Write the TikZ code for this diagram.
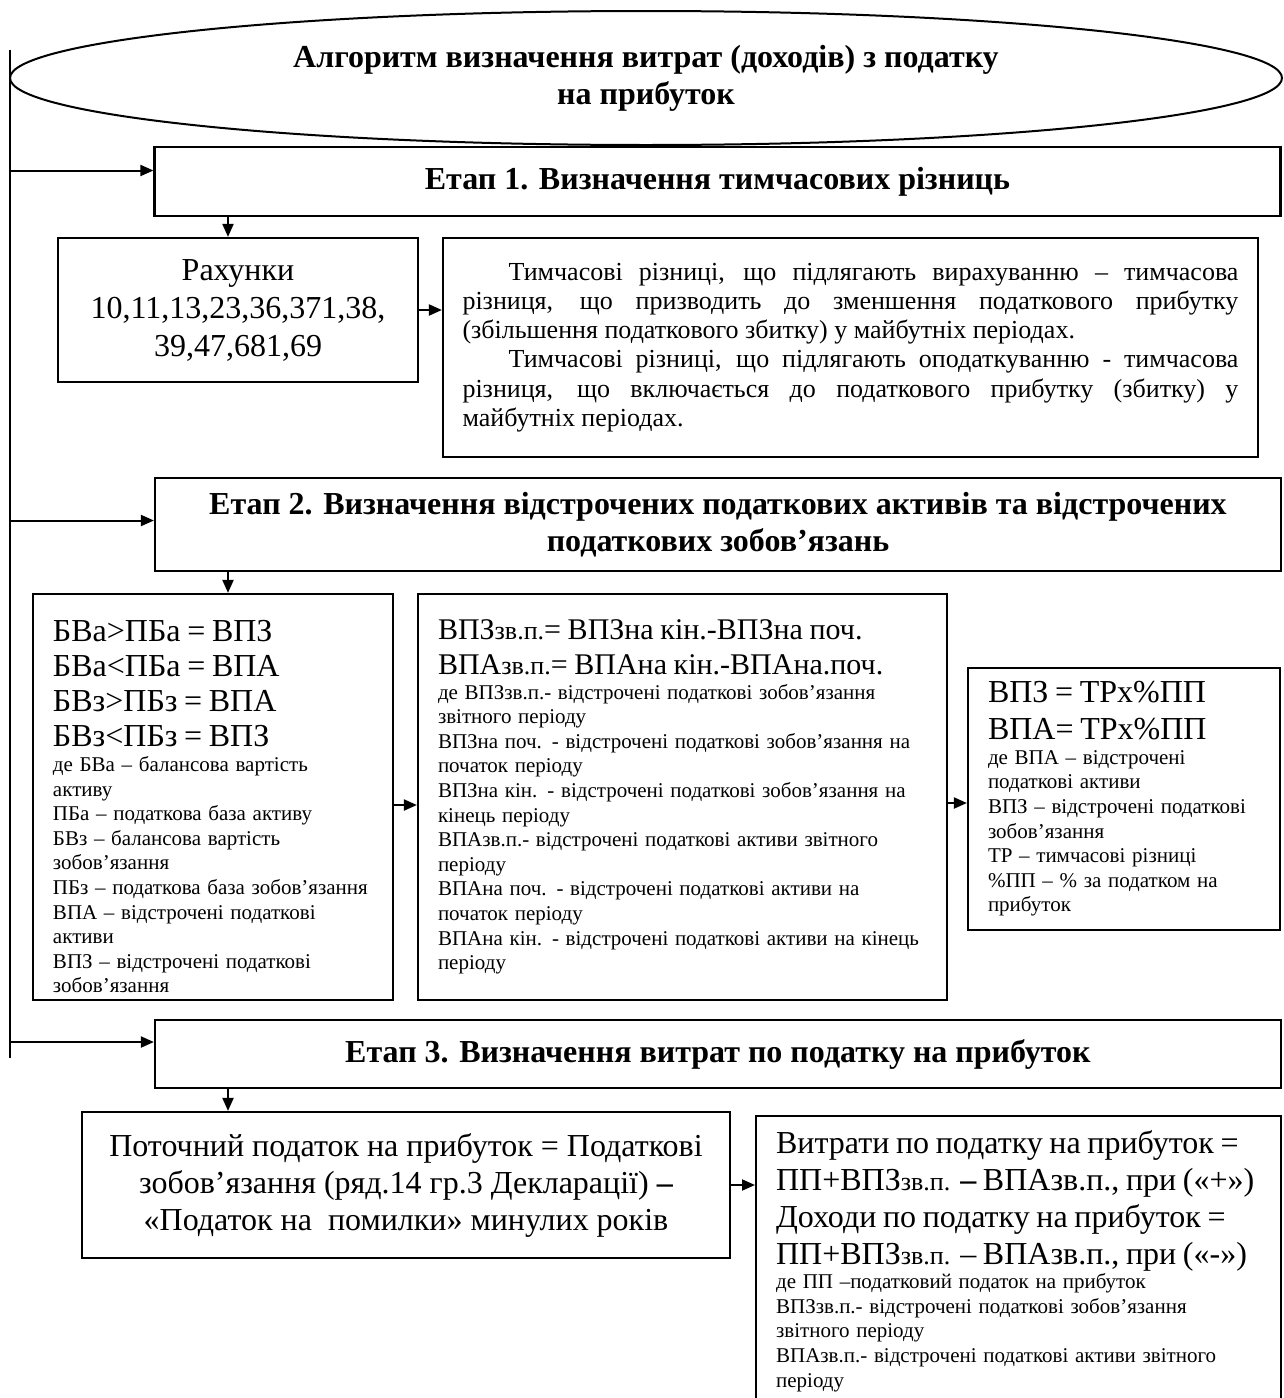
\documentclass[tikz,border=0pt]{standalone}
\usepackage{fontspec}
\setmainfont{Liberation Serif}
\usepackage{tikz}
\usetikzlibrary{shapes.geometric, arrows.meta, positioning}

\newcommand{\bigfs}{\fontsize{16}{18.5}\selectfont}
\newcommand{\tightfs}{\fontsize{16}{17.5}\selectfont}
\newcommand{\midfs}{\fontsize{15}{17.5}\selectfont}
\newcommand{\subfs}{\fontsize{13}{13}\selectfont}
\newcommand{\notefs}{\fontsize{10.5}{12.3}\selectfont}
\newcommand{\parafs}{\fontsize{13}{14.6}\selectfont}

\begin{document}
\begin{tikzpicture}[
    x=0.5pt, y=-0.5pt,
    titleoval/.style={
        ellipse,
        draw,
        line width=1pt,
        minimum width=636pt,
        minimum height=67pt,
        inner sep=0pt,
        align=center,
        font=\bfseries\fontsize{16}{18.5}\selectfont
    },
    stagebox/.style={
        draw,
        line width=1.1pt,
        minimum width=563pt,
        inner sep=0pt,
        align=center,
        font=\bfseries\fontsize{16}{18.5}\selectfont
    },
    notebox/.style={
        draw,
        line width=1.1pt,
        inner sep=0pt,
        align=left
    },
    link/.style={
        line width=1pt,
        -{Triangle[length=6.5pt, width=5.5pt]}
    }
]
    \useasboundingbox[fill=white] (0,0) rectangle (1284,1398);

    % Title
    \node[titleoval] (title) at (646, 78) {Алгоритм визначення витрат (доходів) з податку\\на прибуток};

    % Left spine
    \coordinate (spinetop) at (10, 50);
    \coordinate (spinebot) at (10, 1058);
    \coordinate (drop) at (228, 0);

    % Stage 1
    \node[stagebox, minimum height=34.5pt] (stage1) at (717.5, 181.5) {Етап 1. Визначення тимчасових різниць};

    \node[notebox, align=center, font=\fontsize{16}{19}\selectfont, minimum width=180pt, minimum height=72pt] (acc) at (238, 310)
        {Рахунки\\10,11,13,23,36,371,38,\\39,47,681,69};

    \node[notebox, align=justify, text width=388pt, minimum width=407.5pt, minimum height=109.5pt] (diff) at (850.5, 347.5)
        {\parafs\hspace*{23pt}Тимчасові різниці, що підлягають вирахуванню – тимчасова\linebreak
        різниця, що призводить до зменшення податкового прибутку\linebreak
        (збільшення податкового збитку) у майбутніх періодах.\par
        \hspace*{23pt}Тимчасові різниці, що підлягають оподаткуванню - тимчасова\linebreak
        різниця, що включається до податкового прибутку (збитку) у\linebreak
        майбутніх періодах.\par};

    % Stage 2
    \node[stagebox, minimum height=46.5pt] (stage2) at (718, 524.5) {Етап 2. Визначення відстрочених податкових активів та відстрочених\\податкових зобов’язань};

    \node[notebox, text width=160pt, minimum width=180pt, minimum height=203pt] (base) at (213, 797)
        {\par\vspace*{3pt}{\tightfs БВа>ПБа = ВПЗ\\БВа<ПБа = ВПА\\БВз>ПБз = ВПА\\БВз<ПБз = ВПЗ\par}
        {\notefs де БВа – балансова вартість\\активу\\ПБа – податкова база активу\\БВз – балансова вартість\\зобов’язання\\ПБз – податкова база зобов’язання\\ВПА – відстрочені податкові\\активи\\ВПЗ – відстрочені податкові\\зобов’язання\par}};

    \node[notebox, text width=244.5pt, minimum width=264.5pt, minimum height=203pt] (change) at (682.5, 797)
        {{\midfs ВПЗ{\subfs зв.п.}= ВПЗна кін.-ВПЗна поч.\\ВПА{\subfs зв.п.}= ВПАна кін.-ВПАна.поч.\par}
        {\notefs де ВПЗзв.п.- відстрочені податкові зобов’язання\\звітного періоду\\ВПЗна поч. - відстрочені податкові зобов’язання на\\початок періоду\\ВПЗна кін. - відстрочені податкові зобов’язання на\\кінець періоду\\ВПАзв.п.- відстрочені податкові активи звітного\\періоду\\ВПАна поч. - відстрочені податкові активи на\\початок періоду\\ВПАна кін. - відстрочені податкові активи на кінець\\періоду\par}\vspace*{8pt}};

    \node[notebox, text width=136pt, minimum width=156pt, minimum height=131pt] (rate) at (1124, 799)
        {{\bigfs ВПЗ = ТРх\%ПП\\ВПА= ТРх\%ПП\par}
        {\notefs де ВПА – відстрочені\\податкові активи\\ВПЗ – відстрочені податкові\\зобов’язання\\ТР – тимчасові різниці\\\%ПП – \% за податком на\\прибуток\par}};

    % Stage 3
    \node[stagebox, minimum height=34pt] (stage3) at (718, 1054) {Етап 3. Визначення витрат по податку на прибуток};

    \node[notebox, align=center, font=\bigfs, minimum width=324pt, minimum height=73pt] (current) at (406, 1185)
        {Поточний податок на прибуток = Податкові\\зобов’язання (ряд.14 гр.3 Декларації) \textbf{–}\\«Податок на~ помилки» минулих років};

    \node[notebox, text width=242.5pt, minimum width=262.5pt, inner ysep=7pt, anchor=north west] (expense) at (755, 1115)
        {{\bigfs Витрати по податку на прибуток =\\ПП+ВПЗ{\subfs зв.п.} \textbf{–} ВПАзв.п., при («+»)\\Доходи по податку на прибуток =\\ПП+ВПЗ{\subfs зв.п.} – ВПАзв.п., при («-»)\par}
        {\notefs де ПП –податковий податок на прибуток\\ВПЗзв.п.- відстрочені податкові зобов’язання\\звітного періоду\\ВПАзв.п.- відстрочені податкові активи звітного\\періоду\par}\vspace*{12pt}};

    % Connections
    \draw[line width=1pt] (spinetop) -- (spinebot);
    \draw[link] ([yshift=5.5pt]stage1.west -| spinetop) -- ([yshift=5.5pt]stage1.west);
    \draw[link] ([yshift=2pt]stage2.west -| spinetop) -- ([yshift=2pt]stage2.west);
    \draw[link] ([yshift=6pt]stage3.west -| spinetop) -- ([yshift=6pt]stage3.west);

    \draw[link] (stage1.south -| drop) -- (acc.north -| drop);
    \draw[link] (stage2.south -| drop) -- (base.north -| drop);
    \draw[link] (stage3.south -| drop) -- (current.north -| drop);

    \draw[link] (acc.east) -- (acc.east -| diff.west);
    \draw[link] ([yshift=-4pt]base.east) -- ([yshift=-4pt]change.west);
    \draw[link] ([yshift=-3pt]change.east) -- ([yshift=-3pt]change.east -| rate.west);
    \draw[link] (current.east) -- (current.east -| expense.west);

\end{tikzpicture}
\end{document}
